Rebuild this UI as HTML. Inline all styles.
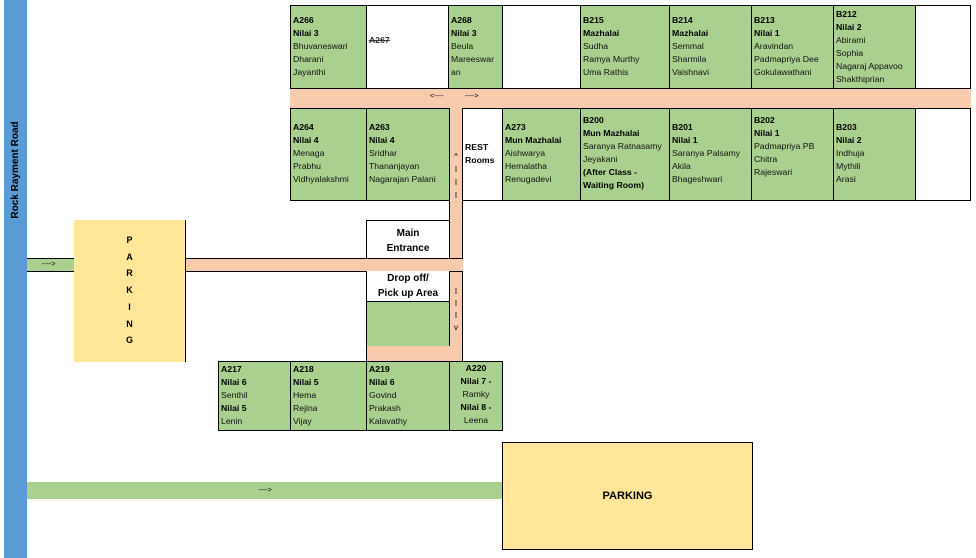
<!DOCTYPE html>
<html><head><meta charset="utf-8"><style>
body{margin:0;width:976px;height:558px;position:relative;background:#fff;font-family:"Liberation Sans",sans-serif;overflow:hidden}
div{position:absolute;box-sizing:border-box}
.g{background:#a9d08e;border:1px solid #000}
.w{background:#fff;border:1px solid #000}
.p{background:#f8cbad}
.y{background:#ffe699}
.t{font-size:8.7px;line-height:13px;color:#111;padding:2px 2px;white-space:nowrap}
.t b{color:#000}
.c{text-align:center}
</style></head><body>
<div style="left:4px;top:0;width:23px;height:558px;background:#5b9bd5"></div>
<div style="left:8px;top:60px;width:16px;height:220px;">
 <div style="left:-102px;top:102px;width:220px;height:16px;transform:rotate(-90deg);font-size:10px;font-weight:bold;text-align:center;line-height:16px">Rock Rayment Road</div>
</div>

<!-- top row -->
<div class="g t" style="left:290px;top:5px;width:77px;height:84px;padding-top:8px"><b>A266<br>Nilai 3</b><br>Bhuvaneswari<br>Dharani<br>Jayanthi</div>
<div class="w t" style="left:366px;top:5px;width:83px;height:84px;padding-top:28px"><b style="text-decoration:line-through;color:#333">A267</b></div>
<div class="g t" style="left:448px;top:5px;width:55px;height:84px;padding-top:8px"><b>A268<br>Nilai 3</b><br>Beula<br>Mareeswar<br>an</div>
<div class="w" style="left:502px;top:5px;width:79px;height:84px"></div>
<div class="g t" style="left:580px;top:5px;width:90px;height:84px;padding-top:8px"><b>B215<br>Mazhalai</b><br>Sudha<br>Ramya Murthy<br>Uma Rathis</div>
<div class="g t" style="left:669px;top:5px;width:83px;height:84px;padding-top:8px"><b>B214<br>Mazhalai</b><br>Semmal<br>Sharmila<br>Vaishnavi</div>
<div class="g t" style="left:751px;top:5px;width:83px;height:84px;padding-top:8px"><b>B213<br>Nilai 1</b><br>Aravindan<br>Padmapriya Dee<br>Gokulawathani</div>
<div class="g t" style="left:833px;top:5px;width:83px;height:84px;padding-top:2px"><b>B212<br>Nilai 2</b><br>Abirami<br>Sophia<br>Nagaraj Appavoo<br>Shakthiprian</div>
<div class="w" style="left:915px;top:5px;width:56px;height:84px"></div>

<div class="p" style="left:290px;top:88px;width:681px;height:21px;border:1px solid #000;border-width:1px 0"></div>
<div style="left:430px;top:93px;font-size:7px">&lt;----</div>
<div style="left:465px;top:93px;font-size:7px">----&gt;</div>

<!-- second row -->
<div class="g t" style="left:290px;top:108px;width:77px;height:93px;padding-top:12px"><b>A264<br>Nilai 4</b><br>Menaga<br>Prabhu<br>Vidhyalakshmi</div>
<div class="g t" style="left:366px;top:108px;width:84px;height:93px;padding-top:12px"><b>A263<br>Nilai 4</b><br>Sridhar<br>Thananjayan<br>Nagarajan Palani</div>
<div class="w t" style="left:462px;top:108px;width:41px;height:93px;padding-top:32px"><b>REST<br>Rooms</b></div>
<div class="g t" style="left:502px;top:108px;width:79px;height:93px;padding-top:12px"><b>A273<br>Mun Mazhalai</b><br>Aishwarya<br>Hemalatha<br>Renugadevi</div>
<div class="g t" style="left:580px;top:108px;width:90px;height:93px;padding-top:5px"><b>B200<br>Mun Mazhalai</b><br>Saranya Ratnasamy<br>Jeyakani<br><b>(After Class -<br>Waiting Room)</b></div>
<div class="g t" style="left:669px;top:108px;width:83px;height:93px;padding-top:12px"><b>B201<br>Nilai 1</b><br>Saranya Palsamy<br>Akila<br>Bhageshwari</div>
<div class="g t" style="left:751px;top:108px;width:83px;height:93px;padding-top:5px"><b>B202<br>Nilai 1</b><br>Padmapriya PB<br>Chitra<br>Rajeswari</div>
<div class="g t" style="left:833px;top:108px;width:83px;height:93px;padding-top:12px"><b>B203<br>Nilai 2</b><br>Indhuja<br>Mythili<br>Arasi</div>
<div class="w" style="left:915px;top:108px;width:56px;height:93px"></div>

<!-- vertical corridor -->
<div class="p" style="left:449px;top:108px;width:14px;height:254px;border:1px solid #000;border-width:0 1px"></div>
<div style="left:449px;top:150px;width:14px;font-size:8px;line-height:13px;text-align:center">^<br>I<br>I<br>I</div>
<div style="left:449px;top:286px;width:14px;font-size:8px;line-height:12px;text-align:center">I<br>I<br>I<br>v</div>

<div class="w" style="left:366px;top:220px;width:84px;height:39px;font-size:10px;font-weight:bold;text-align:center;line-height:15px;padding-top:5px">Main<br>Entrance</div>
<div class="p" style="left:185px;top:258px;width:278px;height:14px;border:1px solid #000;border-width:1px 0"></div>
<div class="w" style="left:366px;top:271px;width:84px;height:31px;font-size:10px;font-weight:bold;text-align:center;line-height:15px;border-top:0">Drop off/<br>Pick up Area</div>
<div class="g" style="left:366px;top:301px;width:84px;height:46px"></div>
<div class="p" style="left:366px;top:346px;width:97px;height:16px;border-left:1px solid #000;border-right:1px solid #000"></div>

<!-- bottom row -->
<div class="g t" style="left:218px;top:361px;width:73px;height:70px;padding-top:1px"><b>A217<br>Nilai 6</b><br>Senthil<br><b>Nilai 5</b><br>Lenin</div>
<div class="g t" style="left:290px;top:361px;width:77px;height:70px;padding-top:1px"><b>A218<br>Nilai 5</b><br>Hema<br>Rejina<br>Vijay</div>
<div class="g t" style="left:366px;top:361px;width:84px;height:70px;padding-top:1px"><b>A219<br>Nilai 6</b><br>Govind<br>Prakash<br>Kalavathy</div>
<div class="g t c" style="left:449px;top:361px;width:54px;height:70px;padding-top:0"><b>A220<br>Nilai 7 -</b><br>Ramky<br><b>Nilai 8 -</b><br>Leena</div>

<!-- parking left -->
<div class="g" style="left:27px;top:258px;width:48px;height:14px;border-width:1px 0;font-size:7px;line-height:12px;padding-left:15px">----&gt;</div>
<div class="y" style="left:74px;top:220px;width:112px;height:142px;border-right:1px solid #000;font-size:9px;font-weight:bold;text-align:center;line-height:16.7px;padding-top:12px">P<br>A<br>R<br>K<br>I<br>N<br>G</div>

<!-- bottom road and parking -->
<div style="left:27px;top:482px;width:476px;height:17px;background:#a9d08e;font-size:7px;line-height:17px;text-align:center">----&gt;</div>
<div class="y" style="left:502px;top:442px;width:251px;height:108px;border:1px solid #000;font-size:11px;font-weight:bold;text-align:center;line-height:106px">PARKING</div>
</body></html>
